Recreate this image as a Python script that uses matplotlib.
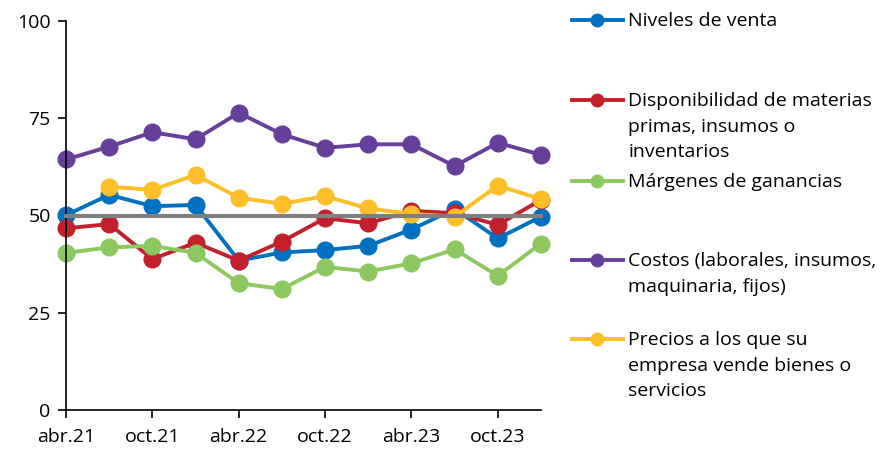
import matplotlib
matplotlib.use("Agg")
from matplotlib import pyplot as plt
from matplotlib.lines import Line2D

plt.rcParams["font.family"] = ["Open Sans", "DejaVu Sans"]

# quarterly observations, abr.21 .. ene.24
periods = ["abr.21", "jul.21", "oct.21", "ene.22", "abr.22", "jul.22",
           "oct.22", "ene.23", "abr.23", "jul.23", "oct.23", "ene.24"]
tick_labels = ["abr.21", "oct.21", "abr.22", "oct.22", "abr.23", "oct.23"]

ventas = [50.1, 55.3, 52.4, 52.7, 38.4, 40.5, 41.1, 42.2, 46.4, 51.7, 44.1, 49.7]
disponibilidad = [46.7, 47.8, 38.8, 43.0, 38.4, 43.3, 49.3, 48.0, 51.2, 50.6, 47.6, 54.0]
margenes = [40.4, 41.8, 42.2, 40.4, 32.6, 31.1, 36.8, 35.6, 37.7, 41.3, 34.5, 42.8]
costos = [64.4, 67.7, 71.4, 69.6, 76.4, 70.9, 67.4, 68.3, 68.3, 62.7, 68.7, 65.6]
precios = [None, 57.4, 56.6, 60.4, 54.6, 53.0, 55.0, 51.8, 50.4, 49.7, 57.7, 54.2]
umbral = [50] * len(periods)

series = [
    ("Niveles de venta", ventas, "#0070C0"),
    ("Disponibilidad de materias\nprimas, insumos o\ninventarios", disponibilidad, "#C4202B"),
    ("Márgenes de ganancias", margenes, "#8DC85F"),
    ("Costos (laborales, insumos,\nmaquinaria, fijos)", costos, "#673F9B"),
    ("Precios a los que su\nempresa vende bienes o\nservicios", precios, "#FEBE27"),
]

fig = plt.figure(figsize=(8.9, 4.5), dpi=100)
ax = fig.add_axes([66 / 890, 40 / 450, 475 / 890, 389 / 450])

x = list(range(len(periods)))
for label, vals, color in series:
    xs = [i for i, v in zip(x, vals) if v is not None]
    ys = [v for v in vals if v is not None]
    ax.plot(xs, ys, color=color, lw=2.8, marker="o", ms=12, label=label,
            solid_capstyle="round", clip_on=False)

ax.plot(x, umbral, color="#7F7F7F", lw=3, zorder=5, clip_on=False)

ax.set_xlim(0, len(periods) - 1)
ax.set_ylim(0, 100)
ax.set_yticks([0, 25, 50, 75, 100])
ax.set_xticks(x[::2])
ax.set_xticklabels(tick_labels)
ax.tick_params(labelsize=14, length=6, width=1.2, direction="out")
ax.tick_params(axis="x", pad=7)
ax.tick_params(axis="y", pad=5)
for s in ["top", "right"]:
    ax.spines[s].set_visible(False)
for s in ["left", "bottom"]:
    ax.spines[s].set_linewidth(1.2)

# legend drawn by hand to keep the fixed spacing of the reference
tops = [20, 100, 181, 260, 339]
for (label, vals, color), top in zip(series, tops):
    yline = 1 - top / 450
    fig.add_artist(Line2D([572 / 890, 597 / 890, 623 / 890], [yline] * 3,
                          color=color, lw=2.8, marker="o", markevery=[1],
                          ms=9, transform=fig.transFigure))
    fig.text(628 / 890, 1 - (top - 8) / 450, label, fontsize=14, va="top",
             ha="left", linespacing=1.55)

fig.savefig("out.png", dpi=100)
